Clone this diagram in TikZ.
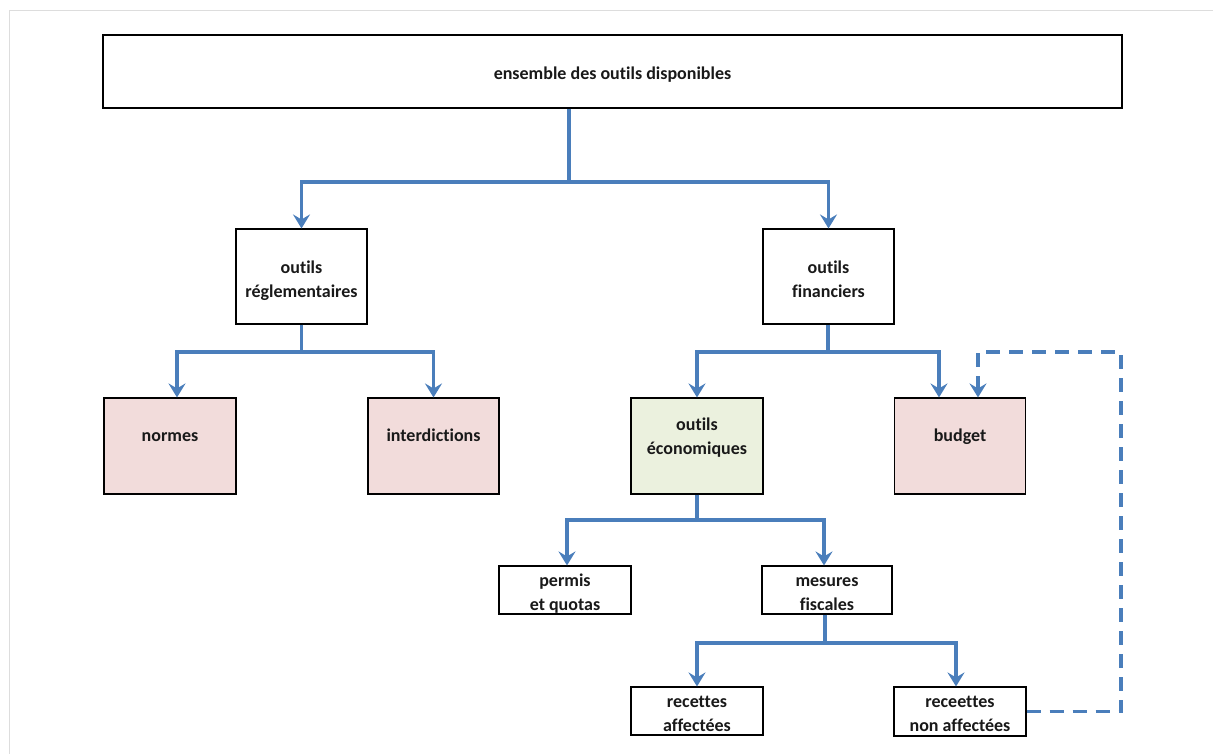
\documentclass[tikz,border=0pt]{standalone}
\usepackage{fontspec}
\setmainfont{Carlito}[Ligatures=NoCommon]
\usetikzlibrary{arrows.meta}
\definecolor{lineblue}{HTML}{4A7EBB}
\definecolor{pinkfill}{HTML}{F2DCDB}
\definecolor{greenfill}{HTML}{EBF1DE}
\definecolor{framegray}{HTML}{DDDDDD}
\newcommand{\boxtext}[2][-5pt]{\raisebox{#1}[0pt][0pt]{\begin{tabular}{@{}c@{}}#2\end{tabular}}}
\begin{document}
\begin{tikzpicture}[x=1pt,y=-1pt,
  box/.style={draw=black, line width=1.1pt, fill=white, inner sep=0pt,
    font=\fontsize{18}{24}\selectfont\bfseries, text=black!90},
  pinkbox/.style={box, fill=pinkfill},
  greenbox/.style={box, fill=greenfill},
  conn/.style={draw=lineblue, line width=3.5pt},
  arr/.style={conn, -{Stealth[length=14pt, width=17pt, inset=5pt]}},
  dashconn/.style={arr, dash pattern=on 14pt off 9pt}]
\useasboundingbox (0,0) rectangle (1213,754);
\draw[framegray, line width=1pt] (9,754) -- (9,11) -- (1213,11);

\node[box, minimum width=1019pt, minimum height=73pt] (top) at (612.5,71.5) {\boxtext[-8pt]{ensemble des outils disponibles}};
\node[box, minimum width=131pt, minimum height=95pt] (reg) at (301.5,276.5) {\boxtext[-9pt]{outils\\réglementaires}};
\node[box, minimum width=131pt, minimum height=95pt] (fin) at (828.5,276.5) {\boxtext[-9pt]{outils\\financiers}};
\node[pinkbox, minimum width=132pt, minimum height=96pt] (normes) at (170,446) {\boxtext[5pt]{normes}};
\node[pinkbox, minimum width=131pt, minimum height=96pt] (interd) at (433.5,446) {\boxtext[5pt]{interdictions}};
\node[greenbox, minimum width=132pt, minimum height=96pt] (eco) at (697,446) {\boxtext[4pt]{outils\\économiques}};
\node[pinkbox, minimum width=131pt, minimum height=96pt] (budget) at (960,446) {\boxtext[5pt]{budget}};
\node[box, minimum width=132pt, minimum height=48pt] (permis) at (565,590) {\boxtext[-8pt]{permis\\et quotas}};
\node[box, minimum width=130pt, minimum height=48pt] (mesures) at (827,590) {\boxtext[-8pt]{mesures\\fiscales}};
\node[box, minimum width=132pt, minimum height=48pt] (raff) at (697,711) {\boxtext[-8pt]{recettes\\affectées}};
\node[box, minimum width=132pt, minimum height=49pt] (rnaff) at (960,711.5) {\boxtext[-8pt]{receettes\\non affectées}};

\coordinate (j1) at (569,182);
\coordinate (j2) at (301.5,352);
\coordinate (j3) at (828,352);
\coordinate (j4) at (697,520);
\coordinate (j5) at (825,643);
\coordinate (d1) at (1121,711.5);
\coordinate (d2) at (1121,352);
\coordinate (d3) at (978,352);

\draw[conn] (top.south -| j1) -- (j1);
\draw[arr] (j1) -| (reg.north);
\draw[arr] (j1) -| (fin.north);

\draw[conn] (reg.south) -- (j2);
\draw[arr] (j2) -| ([xshift=7pt]normes.north);
\draw[arr] (j2) -| (interd.north);

\draw[conn] (fin.south -| j3) -- (j3);
\draw[arr] (j3) -| (eco.north);
\draw[arr] (j3) -| ([xshift=-21pt]budget.north);

\draw[conn] (eco.south) -- (j4);
\draw[arr] (j4) -| ([xshift=2pt]permis.north);
\draw[arr] (j4) -| ([xshift=-3pt]mesures.north);

\draw[conn] (mesures.south -| j5) -- (j5);
\draw[arr] (j5) -| (raff.north);
\draw[arr] (j5) -| ([xshift=-4pt]rnaff.north);

\draw[dashconn] (rnaff.east) -- (d1) -- (d2) -- (d3) -- (d3 |- budget.north);
\end{tikzpicture}
\end{document}
